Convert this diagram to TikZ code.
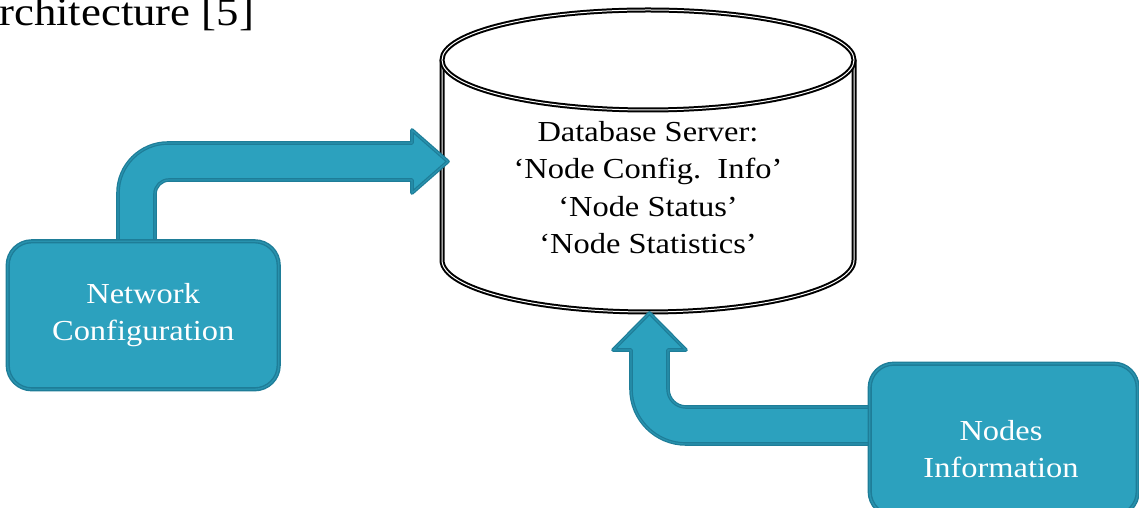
\documentclass[tikz,border=0pt]{standalone}
\usepackage{fontspec}
\setmainfont{Liberation Serif}[FakeStretch=1.12]
\definecolor{tealfill}{RGB}{44,161,190}
\definecolor{tealdark}{RGB}{30,125,152}
\definecolor{tealmid}{RGB}{40,146,174}
\begin{document}
\begin{tikzpicture}[x=1pt,y=1pt,
  boxstyle/.style={draw=tealdark, double=tealmid, double distance=1.4pt, line width=1.4pt, fill=tealfill, rounded corners=24pt},
  fatarrow/.style={draw=tealdark, double=tealmid, double distance=1.2pt, line width=1.2pt, fill=tealfill, line join=round},
  dbline/.style={draw=black, double=white, double distance=1.0pt, line width=2.0pt},
  boxtext/.style={text=white, font=\fontsize{29}{37}\selectfont, align=center},
  dbtext/.style={text=black, font=\fontsize{29}{37}\selectfont, anchor=base}]
\clip (0,0) rectangle (1139,508);
\fill[white] (0,0) rectangle (1139,508);

% title fragment
\node[anchor=base west, inner sep=0pt, font=\fontsize{40}{48}\selectfont] (title) at (-1,482) {rchitecture [5]};

% database cylinder
\coordinate (dbc) at (648,448);
\path[fill=white] (442,448) -- (442,248) arc[start angle=180, end angle=360, x radius=206, y radius=52] -- (854,448) -- cycle;
\draw[dbline] (442,448) -- (442,248) arc[start angle=180, end angle=360, x radius=206, y radius=52] -- (854,448);
\draw[dbline, fill=white] (dbc) ellipse[x radius=206, y radius=50];
\node[dbtext] (db1) at (648,366) {Database Server:};
\node[dbtext] (db2) at (648,329) {‘Node Config.\ \ Info’};
\node[dbtext] (db3) at (648,291) {‘Node Status’};
\node[dbtext] (db4) at (648,254) {‘Node Statistics’};

% arrow from Network Configuration
\path[fatarrow] (118,262) -- (118,315) arc[start angle=180, end angle=90, radius=50] -- (412,365) -- (412,378) -- (448,346.5) -- (412,315) -- (412,328) -- (169,328) arc[start angle=90, end angle=180, radius=14] -- (155,262) -- cycle;

% arrow from Nodes Information
\path[fatarrow] (874,101) -- (686,101) arc[start angle=270, end angle=180, radius=18] -- (668,158) -- (686,158) -- (649.5,195) -- (613,158) -- (631,158) -- (631,119) arc[start angle=180, end angle=270, radius=55] -- (874,64) -- cycle;

% boxes
\node[boxstyle, minimum width=271pt, minimum height=148pt, anchor=south west] (netcfg) at (7,118) {};
\node[boxtext] (netcfgtxt) at (netcfg.center) {Network\\Configuration};
\node[boxstyle, minimum width=268pt, minimum height=152pt, anchor=north west] (nodesinfo) at (869,145) {};
\node[boxtext] (nodesinfotxt) at (1001,59) {Nodes\\Information};
\end{tikzpicture}
\end{document}
